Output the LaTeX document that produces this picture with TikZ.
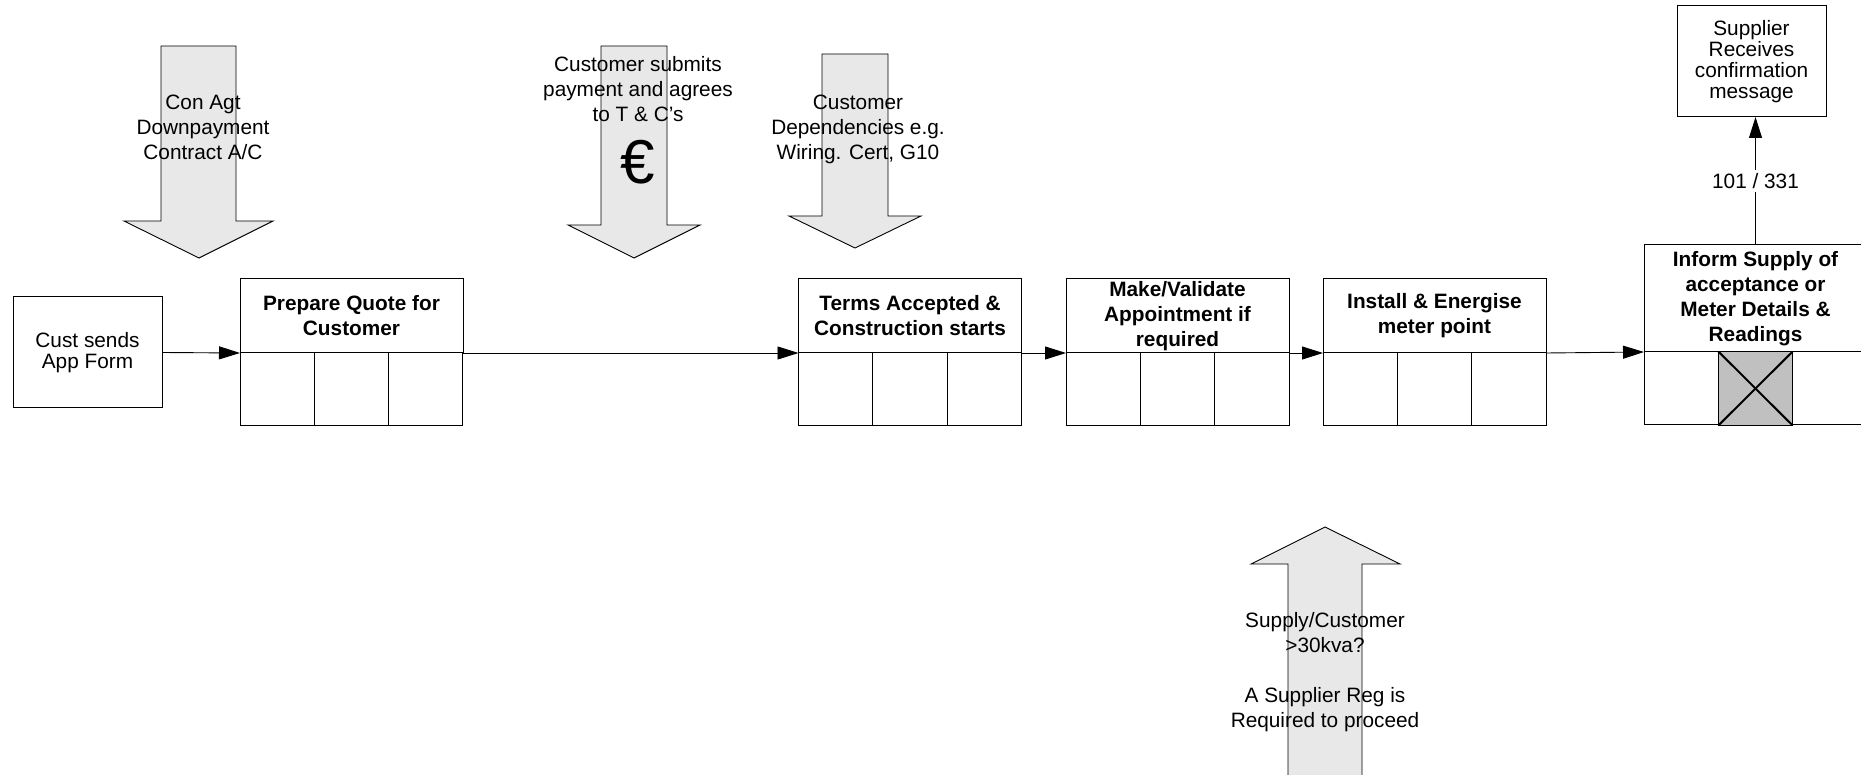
\documentclass[tikz,border=0pt]{standalone}
\usepackage{fontspec}
\setmainfont{Liberation Sans}
\usetikzlibrary{arrows.meta}
\definecolor{arrowfill}{HTML}{E8E8E8}
\definecolor{xgray}{HTML}{C0C0C0}
\begin{document}
\begin{tikzpicture}[x=1pt,y=-1pt,
  txt/.style={font=\fontsize{20.8}{25}\selectfont, align=center, inner sep=0pt},
  plainbox/.style={draw, line width=1pt, outer sep=0pt, minimum width=149pt, minimum height=111pt, align=center, inner sep=0pt, font=\fontsize{20.8}{21}\selectfont},
  proctitle/.style={draw, line width=1pt, outer sep=0pt, minimum width=223pt, minimum height=74pt, align=center, inner sep=0pt, font=\bfseries\fontsize{20.8}{25}\selectfont},
  proccell/.style={draw, line width=1pt, outer sep=0pt, minimum width=74.33pt, minimum height=73pt, inner sep=0pt},
  conn/.style={line width=0.9pt, -{Triangle[length=21pt,width=13pt]}},
  bigarrow/.style={draw, line width=0.9pt, fill=arrowfill}]
\clip (0,0) rectangle (1861,775);
\fill[white] (0,0) rectangle (1861,775);

% big arrows
\draw[bigarrow] (161,46) -- (236,46) -- (236,221) -- (273,221) -- (199,258) -- (124,221) -- (161,221) -- cycle;
\draw[bigarrow] (601,46) -- (667,46) -- (667,225) -- (700,225) -- (634,258) -- (568,225) -- (601,225) -- cycle;
\draw[bigarrow] (822,54) -- (888,54) -- (888,216) -- (921,216) -- (855,248) -- (789,216) -- (822,216) -- cycle;
\draw[bigarrow] (1288,790) -- (1288,564) -- (1251,564) -- (1325,527) -- (1400,564) -- (1362,564) -- (1362,790) -- cycle;

\node[txt] (t1) at (203,127) {Con Agt\\Downpayment\\Contract A/C};
\node[txt] (t2) at (638,89) {Customer submits\\payment and agrees\\to T \& C’s};
\node[txt, font=\fontsize{62}{62}\selectfont] (euro) at (638,162) {€};
\node[txt] (t3) at (858,129) {Customer\\Dependencies e.g.\\Wiring. Cert, G10};
\node[txt] (t4) at (1325,672) {Supply/Customer\\>30kva?\\[25pt]A Supplier Reg is\\Required to proceed};

% boxes
\node[plainbox] (cust) at (87.5,352.5) {Cust sends\\App Form};
\node[plainbox] (supplier) at (1751.5,61.5) {Supplier\\Receives\\confirmation\\message};

\node[proctitle] (prep) at (351.5,316) {Prepare Quote for\\Customer};
\node[proctitle] (terms) at (910,316) {Terms Accepted \&\\Construction starts};
\node[proctitle] (make) at (1177.5,316) {Make/Validate\\Appointment if\\required};
\node[proctitle] (inst) at (1434.5,316) {Install \& Energise\\meter point};
\node[proctitle, minimum height=107pt] (inform) at (1755.5,298.5) {Inform Supply of\\acceptance or\\Meter Details \&\\Readings};

\foreach \b in {prep,terms,make,inst,inform}{
  \node[proccell, anchor=north west] (\b c1) at (\b.south west) {};
  \node[proccell, anchor=west] (\b c2) at (\b c1.east) {};
  \node[proccell, anchor=west] (\b c3) at (\b c2.east) {};
}
\node[proccell, fill=xgray, minimum height=74pt] (xcell) at (informc2) {};
\draw[line width=2pt] (xcell.north west) -- (xcell.south east);
\draw[line width=2pt] (xcell.north east) -- (xcell.south west);

% connectors
\draw[conn] (cust.east) -- (prep.south west);
\draw[conn] (prep.south east) -- (terms.south west);
\draw[conn] (terms.south east) -- (make.south west);
\draw[conn] (make.south east) -- (inst.south west);
\draw[conn] (inst.south east) -- (inform.south west);
\draw[conn] (inform.north) -- (inform.north |- supplier.south)
  node[pos=0.5, fill=white, inner sep=3pt, font=\fontsize{20.8}{25}\selectfont] (lbl) {101 / 331};
\end{tikzpicture}
\end{document}
